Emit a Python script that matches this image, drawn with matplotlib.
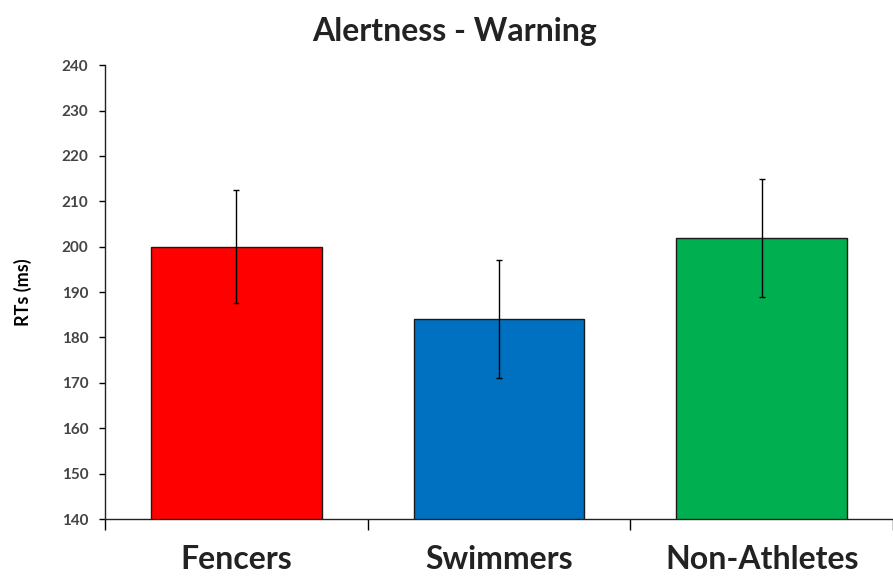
import matplotlib.pyplot as plt
import numpy as np

groups = ["Fencers", "Swimmers", "Non-Athletes"]
rt_means = [200, 184, 202]
rt_errors = [12.5, 13, 13]
bar_colors = ["#FF0000", "#0070C0", "#00B050"]
y_ticks = list(range(140, 241, 10))

plt.rcParams['font.family'] = ['Lato', 'DejaVu Sans']

fig = plt.figure(figsize=(8.93, 5.77), dpi=100)
ax = fig.add_axes([0.1176, 0.1005, 0.8824, 0.7865])

x = np.arange(len(groups))
ax.bar(x, rt_means, width=0.65, color=bar_colors, edgecolor="#1a1a1a", linewidth=1.0,
       yerr=rt_errors, error_kw=dict(ecolor="black", elinewidth=1.0, capsize=2, capthick=1.0))

ax.set_xlim(-0.5, 2.5)
ax.set_ylim(140, 240)
ax.set_yticks(y_ticks)
ax.set_yticklabels([str(v) for v in y_ticks], fontsize=11, fontweight='bold', color='#444444')
ax.tick_params(axis='y', direction='out', length=4, width=1, pad=8)

# category ticks sit between the groups, labels at the centres
ax.set_xticks([-0.5, 0.5, 1.5, 2.5])
ax.set_xticklabels([])
ax.set_xticks(x, minor=True)
ax.set_xticklabels(groups, minor=True, fontsize=23, fontweight='bold', color='#222222')
ax.tick_params(axis='x', which='major', direction='out', length=8, width=1)
ax.tick_params(axis='x', which='minor', length=0, pad=19)

for side in ['top', 'right']:
    ax.spines[side].set_visible(False)
for side in ['left', 'bottom']:
    ax.spines[side].set_linewidth(1.0)
    ax.spines[side].set_color('#222222')

ax.set_ylabel("RTs (ms)", fontsize=13, fontweight='bold')
ax.yaxis.set_label_coords(-0.093, 0.5)
fig.text(0.509, 0.945, "Alertness - Warning", ha='center', va='center', fontsize=23, fontweight='bold', color='#222222')

fig.savefig("out.png", dpi=100)
